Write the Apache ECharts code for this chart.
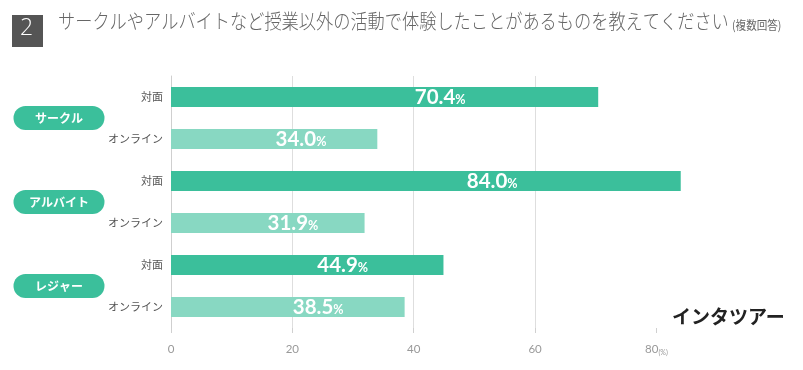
<!DOCTYPE html>
<html><head><meta charset="utf-8">
<script src="https://cdn.jsdelivr.net/npm/echarts@6/dist/echarts.min.js"></script>
<style>html,body{margin:0;padding:0;background:#fff}#c{width:803px;height:370px}</style>
</head><body><div id="c"></div>
<script>
const categories = ['対面', 'オンライン', '対面', 'オンライン', '対面', 'オンライン'];
const groups = ['サークル', 'アルバイト', 'レジャー'];
const values = [70.4, 34.0, 84.0, 31.9, 44.9, 38.5];
const modes = ['face', 'online', 'face', 'online', 'face', 'online'];
const xTicks = [0, 20, 40, 60, 80];

const DARK = '#3bbf9b', LIGHT = '#88d8c2';
const FONT = '"Noto Sans CJK JP", "Noto Sans", sans-serif';

const chart = echarts.init(document.getElementById('c'), null, {renderer: 'canvas'});
chart.setOption({
  animation: false,
  backgroundColor: '#fff',
  grid: {left: 171, top: 76, width: 534, height: 252},
  xAxis: {
    type: 'value', min: 0, max: 88, interval: 20,
    axisLine: {show: false},
    axisTick: {show: true, length: 5, customValues: xTicks, lineStyle: {color: '#d0d0d0'}},
    splitLine: {show: true, showMinLine: false, showMaxLine: false, lineStyle: {color: '#dedede', width: 1}},
    axisLabel: {
      color: '#999', fontFamily: 'Lato', fontSize: 11.5, margin: 15, customValues: xTicks,
      formatter: v => xTicks.includes(v) ? (v === 80 ? '{n|80}{u|(%)}' : String(v)) : '',
      rich: {n: {color: '#999', fontFamily: 'Lato', fontSize: 11.5}, u: {color: '#999', fontSize: 7, padding: [6, 0, 0, 0]}}
    }
  },
  yAxis: [{
    type: 'category', data: categories, inverse: true,
    axisLine: {show: true, lineStyle: {color: '#cfcfcf'}},
    axisTick: {show: false},
    axisLabel: {color: '#555', fontFamily: FONT, fontSize: 11, margin: 8}
  }, {
    type: 'category', data: groups, inverse: true, position: 'left', offset: 0,
    axisLine: {show: false}, axisTick: {show: false},
    axisLabel: {
      align: 'center', margin: 112, width: 91, height: 24, lineHeight: 24,
      backgroundColor: DARK, borderRadius: 12,
      color: '#fff', fontFamily: FONT, fontSize: 12, fontWeight: 'bold'
    }
  }],
  series: [{
    type: 'bar', yAxisIndex: 0, barWidth: 20,
    data: values.map((v, i) => ({value: v, itemStyle: {color: modes[i] === 'face' ? DARK : LIGHT}})),
    label: {
      show: true, position: ['63%', '50%'], align: 'center', verticalAlign: 'middle',
      formatter: p => '{a|' + p.value.toFixed(1) + '}{b|%}',
      rich: {
        a: {color: '#fff', fontFamily: 'Lato', fontWeight: 'bold', fontSize: 20.5},
        b: {color: '#fff', fontFamily: 'Lato', fontWeight: 'bold', fontSize: 12.5, padding: [5, 0, 0, 0]}
      }
    }
  }],
  graphic: [
    {type: 'rect', left: 12, top: 15, shape: {width: 31, height: 32}, style: {fill: '#555'}},
    {type: 'text', left: 20, top: 17, style: {text: '2', fill: '#fff', font: '300 23px "Open Sans", sans-serif'}},
    {type: 'text', x: 58, y: 11, scaleX: 0.86, style: {text: 'サークルやアルバイトなど授業以外の活動で体験したことがあるものを教えてください', fill: '#666', font: '300 20px "Noto Sans CJK JP", sans-serif'}},
    {type: 'text', x: 732, y: 19, scaleX: 0.88, style: {text: '(複数回答)', fill: '#666', font: '12px "Noto Sans CJK JP", sans-serif'}},
    {type: 'text', left: 672, top: 307, style: {text: 'インタツアー', fill: '#222', font: 'bold 19px "Noto Sans CJK JP", sans-serif'}}
  ]
});
</script></body></html>
